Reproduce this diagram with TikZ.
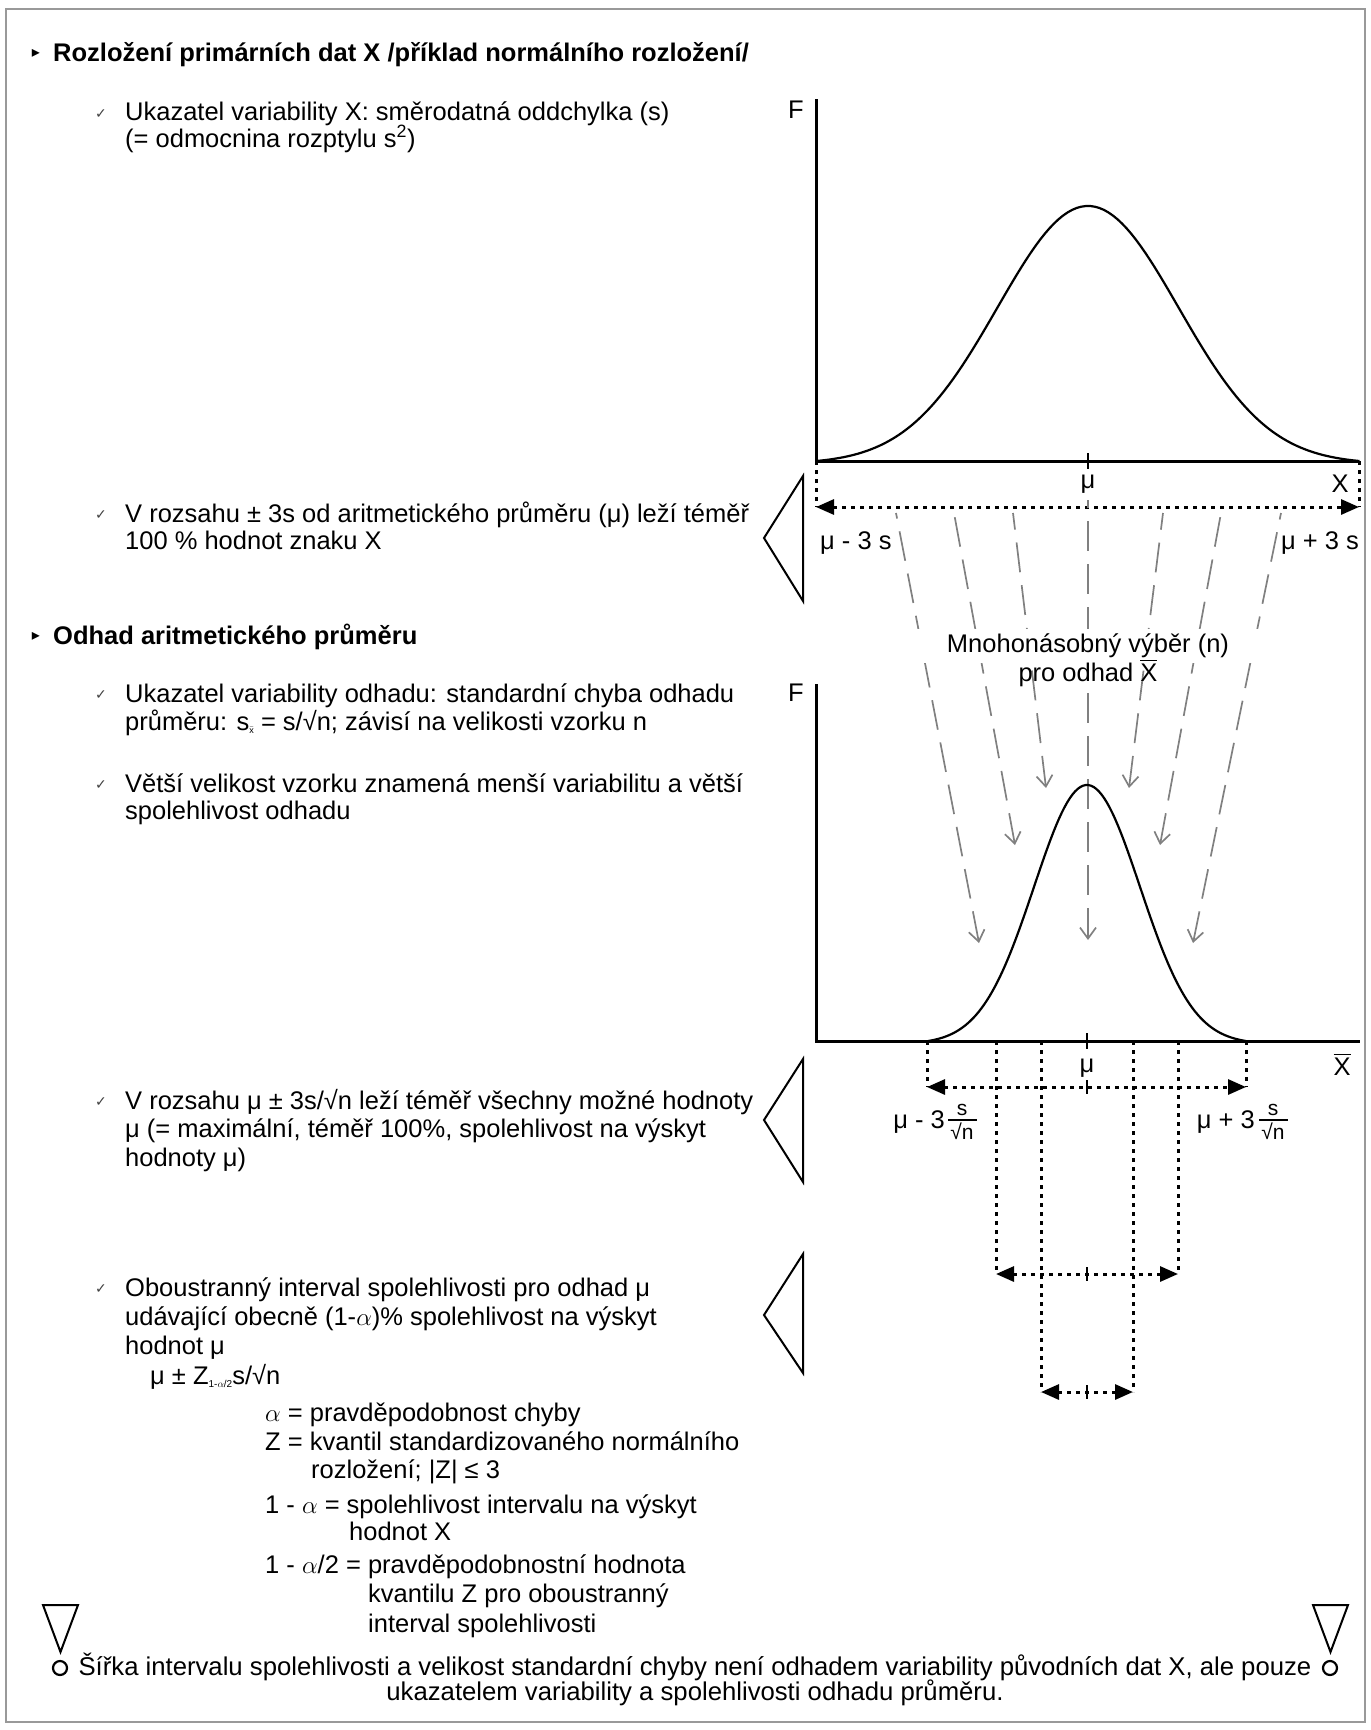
\documentclass[tikz,border=0pt]{standalone}
\usepackage{amsmath}
\usepackage{fontspec}
\setmainfont{Liberation Sans}
\newfontfamily\dejavu{DejaVu Sans}
\usetikzlibrary{arrows.meta}
\newcommand\xbar{\ensuremath{\overline{\hbox{X}}}}
\tikzset{
 body/.style={anchor=base west, inner sep=0pt, font=\fontsize{25.5}{28}\selectfont},
 ttl/.style={anchor=base west, inner sep=0pt, font=\fontsize{25.5}{28}\selectfont\bfseries},
 lbl/.style={inner sep=0pt, font=\fontsize{25.5}{28}\selectfont},
 small/.style={inner sep=0pt, font=\fontsize{21}{21}\selectfont},
 chk/.style={inner sep=0pt, text=black!75, font=\dejavu\fontsize{14}{14}\selectfont},
 blt/.style={inner sep=0pt, font=\dejavu\fontsize{16}{16}\selectfont},
 axisline/.style={line width=3pt},
 curve/.style={line width=2.2pt},
 dots/.style={line width=3pt, dash pattern=on 4pt off 5pt},
 darr/.style={dots, {Triangle[length=18pt,width=15pt]}-{Triangle[length=18pt,width=15pt]}},
 garr/.style={line width=1.7pt, draw=black!50, dash pattern=on 30pt off 13pt, {Straight Barb[length=11pt,width=16pt]}-},
 tri/.style={line width=2pt, line join=miter},
}
\begin{document}
\begin{tikzpicture}[x=1pt,y=-1pt]
\useasboundingbox (0,0) rectangle (1371,1730);
\draw[black!40, line width=1.2pt] (6,9) rectangle (1365,1722);

% ---------- left texts ----------
\node[blt] (b1) at (36,53) {▸};
\node[ttl] (t1) at (53,61) {Rozložení primárních dat X /příklad normálního rozložení/};
\node[chk] (c1) at (101,114) {✓};
\node[body] (l1a) at (125,120.5) {Ukazatel variability X: směrodatná oddchylka (s)};
\node[body] (l1b) at (125,147) {(= odmocnina rozptylu s\textsuperscript{2})};

\node[chk] (c2) at (101,515) {✓};
\node[body] (l2a) at (125,522) {V rozsahu ± 3s od aritmetického průměru (μ) leží téměř};
\node[body] (l2b) at (125,549) {100 \% hodnot znaku X};

\node[blt] (b2) at (36,636) {▸};
\node[ttl] (t2) at (53,644) {Odhad aritmetického průměru};
\node[chk] (c3) at (101,695) {✓};
\node[body] (l3a) at (125,702) {Ukazatel variability odhadu: standardní chyba odhadu};
\node[body] (l3b) at (125,730) {průměru: s\raisebox{-3pt}{\fontsize{9}{9}\selectfont$\bar{\mathrm{x}}$} = s/√n; závisí na velikosti vzorku n};
\node[chk] (c4) at (101,785) {✓};
\node[body] (l4a) at (125,792) {Větší velikost vzorku znamená menší variabilitu a větší};
\node[body] (l4b) at (125,819) {spolehlivost odhadu};

\node[chk] (c5) at (101,1102) {✓};
\node[body] (l5a) at (125,1109) {V rozsahu μ ± 3s/√n leží téměř všechny možné hodnoty};
\node[body] (l5b) at (125,1137) {μ (= maximální, téměř 100\%, spolehlivost na výskyt};
\node[body] (l5c) at (125,1166) {hodnoty μ)};

\node[chk] (c6) at (101,1289) {✓};
\node[body] (l6a) at (125,1296) {Oboustranný interval spolehlivosti pro odhad μ};
\node[body] (l6b) at (125,1325) {udávající obecně (1-$\alpha$)\% spolehlivost na výskyt};
\node[body] (l6c) at (125,1354) {hodnot μ};
\node[body] (l6d) at (150,1384) {μ ± Z\raisebox{-3pt}{\fontsize{10}{10}\selectfont 1-$\alpha$/2}s/√n};
\node[body] (d1) at (265,1421) {$\alpha$ = pravděpodobnost chyby};
\node[body] (d2) at (265,1450) {Z = kvantil standardizovaného normálního};
\node[body] (d3) at (311,1478) {rozložení; |Z| ≤ 3};
\node[body] (d4) at (265,1513) {1 - $\alpha$ = spolehlivost intervalu na výskyt};
\node[body] (d5) at (349,1540) {hodnot X};
\node[body] (d6) at (265,1573) {1 - $\alpha$/2 = pravděpodobnostní hodnota};
\node[body] (d7) at (368,1602) {kvantilu Z pro oboustranný};
\node[body] (d8) at (368,1632) {interval spolehlivosti};

\node[lbl, anchor=base, font=\fontsize{25.7}{28}\selectfont] (f1) at (695,1675) {Šířka intervalu spolehlivosti a velikost standardní chyby není odhadem variability původních dat X, ale pouze};
\node[lbl, anchor=base, font=\fontsize{25.7}{28}\selectfont] (f2) at (695,1700) {ukazatelem variability a spolehlivosti odhadu průměru.};

% bottom markers
\draw[tri] (43,1605) -- (78,1605) -- (60.5,1652) -- cycle;
\draw[line width=2.2pt] (60,1668) circle[radius=7pt];
\draw[tri] (1313,1605) -- (1348,1605) -- (1330.5,1652) -- cycle;
\draw[line width=2.2pt] (1330,1668) circle[radius=7pt];

% left-pointing triangles
\draw[tri] (803,476) -- (803,601) -- (764,538) -- cycle;
\draw[tri] (803,1059) -- (803,1182) -- (764,1120) -- cycle;
\draw[tri] (803,1254) -- (803,1373) -- (764,1315) -- cycle;

% ---------- top graph ----------
\coordinate (o1) at (816,461);
\coordinate (y1) at (816,99);
\coordinate (x1) at (1359,461);
\draw[axisline] (y1) -- (o1) -- (x1);
\draw[curve] plot[domain=-3:3, samples=120] ({1088+90.5*\x}, {461-255*(exp(-0.5*(\x)*(\x))-0.0111)/0.9889});
\draw[line width=2pt] (1088,453) -- (1088,469);
\node[lbl] (F1) at (796,110) {F};
\node[lbl] (mu1) at (1088,484) {μ};
\node[lbl] (X1) at (1340,484) {X};
\coordinate (a1l) at (816,507);
\coordinate (a1r) at (1359,507);
\draw[dots] (o1) -- (a1l);
\draw[dots] (x1) -- (a1r);
\draw[darr] (a1l) -- (a1r);
\node[lbl, anchor=base west] (m3s) at (820,549) {μ - 3 s};
\node[lbl, anchor=base east] (p3s) at (1359,549) {μ + 3 s};

% ---------- gray sampling arrows ----------
\coordinate (s1) at (896,513);  \coordinate (e1) at (979,943);
\coordinate (s2) at (954,513);  \coordinate (e2) at (1015,845);
\coordinate (s3) at (1013,513); \coordinate (e3) at (1046,788);
\coordinate (s4) at (1088,500); \coordinate (e4) at (1088,940);
\coordinate (s5) at (1163,513); \coordinate (e5) at (1129,788);
\coordinate (s6) at (1221,513); \coordinate (e6) at (1160,845);
\coordinate (s7) at (1281,513); \coordinate (e7) at (1193,943);
\foreach \i in {1,...,7} {\draw[garr] (e\i) -- (s\i);}
\node[lbl, fill=white, minimum width=360pt, minimum height=34pt] (mn) at (1088,646) {Mnohonásobný výběr (n)};
\node[lbl] (po) at (1088,673) {pro odhad \xbar};

% ---------- bottom graph ----------
\coordinate (o2) at (816,1041);
\coordinate (y2) at (816,684);
\coordinate (x2) at (1360,1041);
\draw[axisline] (y2) -- (o2) -- (x2);
\draw[curve] plot[domain=-3:3, samples=120] ({1087+53*\x}, {1041-256*(exp(-0.5*(\x)*(\x))-0.0111)/0.9889});
\draw[line width=2pt] (1087,1033) -- (1087,1049);
\node[lbl] (F2) at (796,693) {F};
\node[lbl] (X2) at (1342,1064) {\xbar};
\node[lbl] (mu2) at (1087,1068) {μ};

\coordinate (v1t) at (927,1041);  \coordinate (v1b) at (927,1087);
\coordinate (v6t) at (1246,1041); \coordinate (v6b) at (1246,1087);
\coordinate (v2t) at (996,1041);  \coordinate (v2b) at (996,1274);
\coordinate (v5t) at (1178,1041); \coordinate (v5b) at (1178,1274);
\coordinate (v3t) at (1041,1041); \coordinate (v3b) at (1041,1392);
\coordinate (v4t) at (1133,1041); \coordinate (v4b) at (1133,1392);
\foreach \i in {1,...,6} {\draw[dots] (v\i t) -- (v\i b);}
\draw[darr] (v1b) -- (v6b);
\draw[darr] (v2b) -- (v5b);
\draw[darr] (v3b) -- (v4b);
\draw[line width=2pt] (1087,1080) -- (1087,1094);
\draw[line width=2pt] (1087,1267) -- (1087,1281);
\draw[line width=2pt] (1087,1385) -- (1087,1399);

% labels mu -+ 3 s/sqrt n
\node[lbl, anchor=base east] (m3n) at (945,1128) {μ - 3};
\node[small] (m3s1) at (962,1110) {s};
\node[small] (m3s2) at (962,1131) {√n};
\draw[line width=1.3pt] (m3n.base east) ++(3,-8) coordinate (mb1) -- ++(29,0) coordinate (mb2);
\node[lbl, anchor=base east] (p3n) at (1255,1128) {μ + 3};
\node[small] (p3s1) at (1273,1110) {s};
\node[small] (p3s2) at (1273,1131) {√n};
\draw[line width=1.3pt] (p3n.base east) ++(4,-8) coordinate (pb1) -- ++(29,0) coordinate (pb2);
\end{tikzpicture}
\end{document}
